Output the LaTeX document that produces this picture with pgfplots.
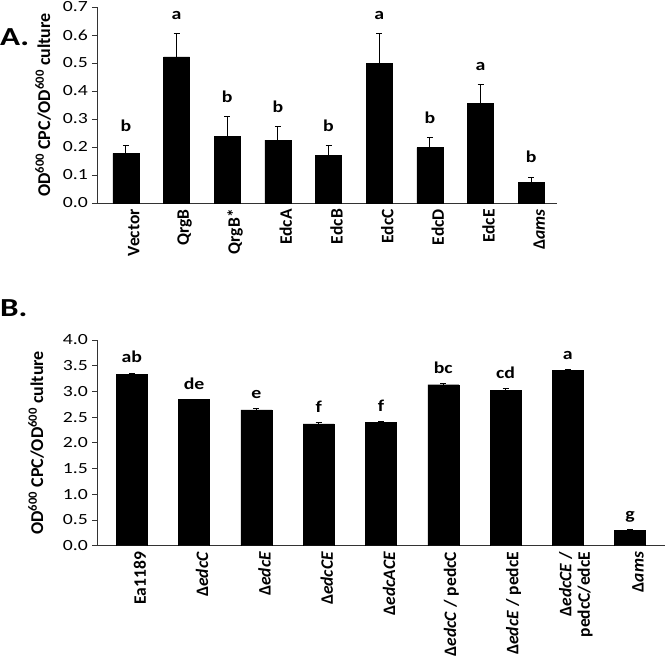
\documentclass[border=0pt]{standalone}
\usepackage{fontspec}
\setmainfont{Carlito}
\newfontfamily\widefont{Carlito}[FakeStretch=1.27]
\newfontfamily\letterfont{Carlito}[FakeStretch=1.2]
\usepackage{pgfplots}
\pgfplotsset{compat=1.18}
\usepackage{pgfplotstable}

\pgfplotstableread{
x y err lab
0 0.177 0.030 b
1 0.522 0.082 a
2 0.239 0.069 b
3 0.225 0.048 b
4 0.170 0.036 b
5 0.499 0.108 a
6 0.198 0.035 b
7 0.357 0.067 a
8 0.074 0.019 b
}\tabA

\pgfplotstableread{
x y err lab
0 3.33 0.03 ab
1 2.84 0.01 de
2 2.64 0.03 e
3 2.37 0.03 f
4 2.40 0.02 f
5 3.13 0.03 bc
6 3.02 0.04 cd
7 3.41 0.02 a
8 0.30 0.01 g
}\tabB

\newcommand{\tickfs}{\widefont\fontsize{15.5bp}{18bp}\selectfont}
\newcommand{\labfs}{\fontsize{17.5bp}{18.5bp}\selectfont\bfseries}

\pgfplotsset{
  panel/.style={
    scale only axis,
    anchor=south west,
    ymin=0,
    axis x line*=bottom, axis y line*=left,
    axis line style={-, draw=black!80, line width=0.9pt},
    xtick=data,
    xtick style={draw=none},
    ytick style={draw=black!80, line width=0.9pt},
    tick align=outside, major tick length=5bp,
    /pgf/number format/assume math mode=true,
    yticklabel style={font=\tickfs, inner sep=1bp, xshift=-3bp, /pgf/number format/fixed, /pgf/number format/fixed zerofill, /pgf/number format/precision=1},
    xticklabel style={font=\labfs, rotate=90, anchor=east, align=right, inner sep=1bp, yshift=-8bp},
    ylabel style={font=\fontsize{18bp}{20bp}\selectfont\bfseries, rotate=0, anchor=center},
    ylabel={OD\textsuperscript{600} CPC/OD\textsuperscript{600} culture},
  },
  bars/.style={ybar, fill=black, draw=black,
    error bars/y dir=plus, error bars/y explicit,
    error bars/error bar style={black, line width=0.8pt},
    error bars/error mark options={rotate=90, mark size=3bp, line width=0.8pt}},
  letters/.style={draw=none, mark=none, nodes near coords, point meta=explicit symbolic,
    nodes near coords style={font=\letterfont\fontsize{16.5bp}{18bp}\selectfont\bfseries, anchor=base, inner sep=0pt}},
}

\begin{document}
\begin{tikzpicture}
\useasboundingbox (0,0) rectangle (666bp,-657bp);

\node[anchor=base west, inner sep=0pt, font=\widefont\fontsize{26bp}{30bp}\selectfont\bfseries] at (0bp,-45bp) {A.};
\node[anchor=base west, inner sep=0pt, font=\widefont\fontsize{26bp}{30bp}\selectfont\bfseries] at (0bp,-316bp) {B.};

\begin{axis}[panel,
  at={(97bp,-203bp)},
  width=460bp, height=196bp,
  xmin=-0.57, xmax=8.51, ymax=0.7,
  ytick={0,0.1,...,0.7},
  xticklabels={Vector, QrgB, QrgB*, EdcA, EdcB, EdcC, EdcD, EdcE, Δ\textit{ams}},
  ylabel style={at={(axis description cs:-0.117,0.5)}},
]
  \addplot[bars, bar width=26bp] table[x=x, y=y, y error=err] {\tabA};
  \addplot[letters, nodes near coords style={yshift=14bp}] table[x=x, y expr=\thisrow{y}+\thisrow{err}, meta=lab] {\tabA};
\end{axis}

\begin{axis}[panel,
  at={(97bp,-545.7bp)},
  width=568bp, height=205.7bp,
  xmin=-0.56, xmax=8.56, ymax=4,
  ytick={0,0.5,...,4},
  xticklabels={Ea1189, Δ\textit{edcC}, Δ\textit{edcE}, Δ\textit{edcCE}, Δ\textit{edcACE},
    Δ\textit{edcC} / pedcC, Δ\textit{edcE} / pedcE, Δ\textit{edcCE} /\\pedcC/edcE, Δ\textit{ams}},
  ylabel style={at={(axis description cs:-0.107,0.5)}},
]
  \addplot[bars, bar width=31bp] table[x=x, y=y, y error=err] {\tabB};
  \addplot[letters, nodes near coords style={yshift=10bp}] table[x=x, y expr=\thisrow{y}+\thisrow{err}, meta=lab] {\tabB};
\end{axis}
\end{tikzpicture}
\end{document}
